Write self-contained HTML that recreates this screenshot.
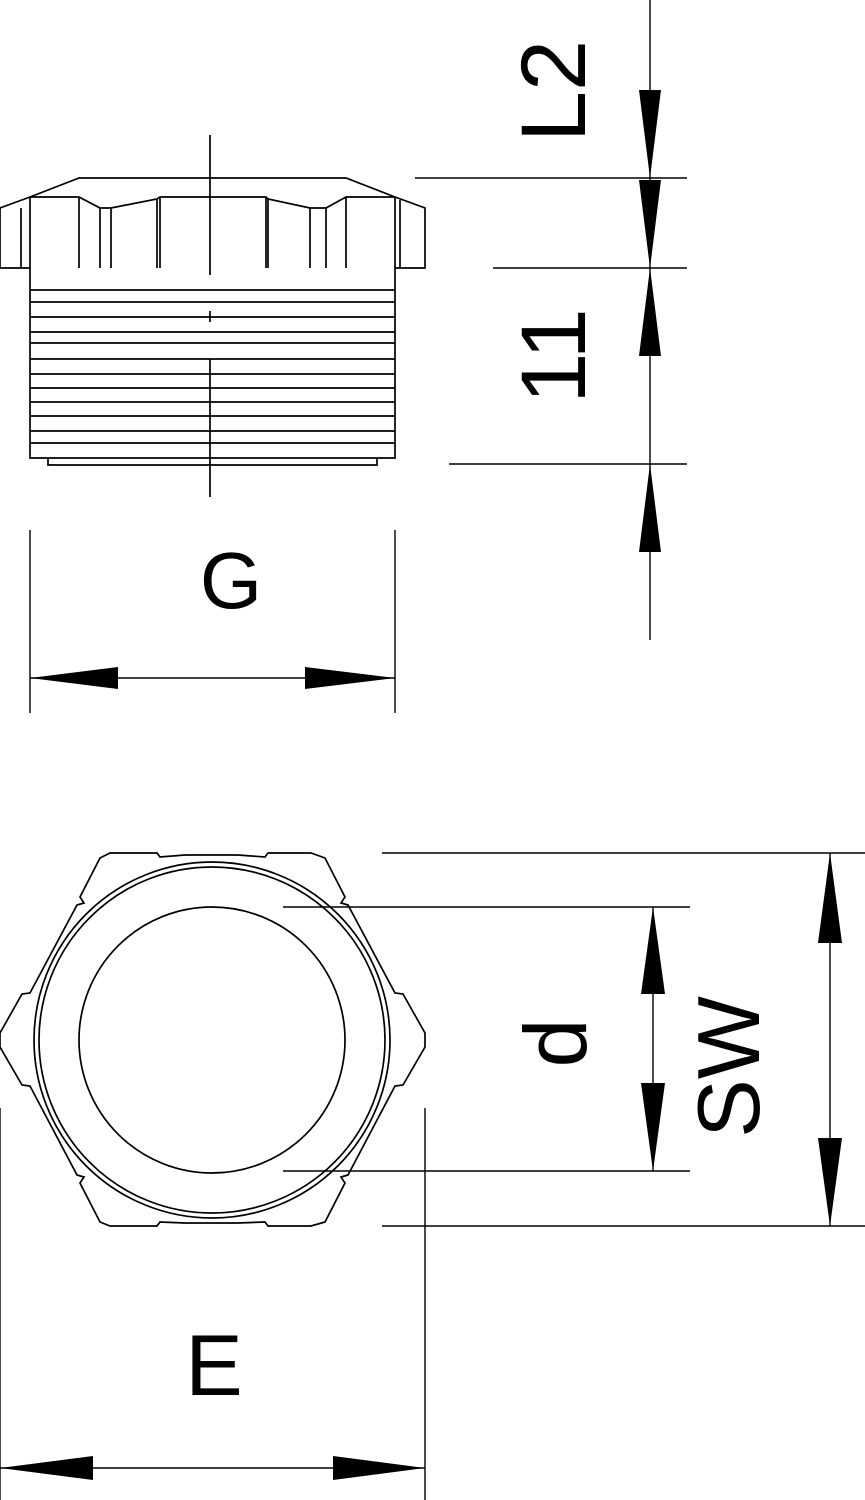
<!DOCTYPE html>
<html><head><meta charset="utf-8"><style>
html,body{margin:0;padding:0;background:#fff;}
svg{display:block;}
text{font-family:"Liberation Sans",sans-serif;fill:#000;}
</style></head><body>
<svg width="865" height="1500" viewBox="0 0 865 1500" xmlns="http://www.w3.org/2000/svg">
<g fill="none" stroke="#000" stroke-width="1.7">
<path d="M30,268 L0,268 L0,208 L30,197 L79,178 L346,178 L395,197 L425,208 L425,268 L395,268"/>
<path d="M30,197 L79,197 L100,208 L111,208 L157,199 L160,197 L266,197 L268,199 L310,208 L326,208 L346,197 L395,197"/>
<path d="M21,208 V268 M30,197 V268 M79,197 V268 M100,208 V268 M111,208 V268 M157,199 V268 M160,197 V268 M266,197 V268 M268,199 V268 M310,208 V268 M326,208 V268 M346,197 V268 M395,197 V268 M400,200 V268"/>
<path d="M30,268 V458 H395 V268"/>
<path d="M48,458 V465 H377 V458"/>
<path d="M30,290H395M30,302H395M30,317H395M30,332H395M30,343H395M30,359H395M30,374H395M30,388H395M30,402H395M30,416H395M30,431H395M30,443H395"/>
<path d="M210,135 V275 M210,311 V322 M210,359 V497"/>
<path stroke-width="1.4" d="M650,0 V640 M415,178 H687 M493,268 H687 M449,464 H687"/>
<path stroke-width="1.4" d="M30,530 V713 M395,530 V713 M30,678 H395"/>
<path d="M110,853 L157,853 L160,857 L185,855 L238,855 L265,857 L268,853 L311,853 L325,858 L345,897 L341,903 L348,905 L395,993 L403,994 L425,1033 L425,1047 L403,1085 L395,1086 L348,1175 L341,1177 L345,1183 L325,1222 L311,1226 L268,1226 L265,1222 L238,1223 L185,1223 L160,1222 L157,1226 L110,1226 L100,1222 L80,1183 L84,1177 L77,1175 L30,1086 L22,1085 L0,1047 L0,1033 L22,994 L30,993 L77,905 L84,903 L80,897 L100,858 Z"/>
<circle cx="212" cy="1040" r="178"/>
<circle cx="212" cy="1040" r="173"/>
<circle cx="212" cy="1040" r="133"/>
<path stroke-width="1.4" d="M382,853 H865 M382,1226 H865 M283,907 H690 M283,1171 H690 M653,907 V1171 M830,853 V1226"/>
<path stroke-width="1.4" d="M0,1108 V1500 M425,1108 V1500 M0,1468 H425"/>
</g>
<g fill="#000">
<polygon points="650,178 639,90 661,90"/>
<polygon points="650,268 639,180 661,180"/>
<polygon points="650,268 639,356 661,356"/>
<polygon points="650,464 639,552 661,552"/>
<polygon points="30,678 118,667 118,689"/>
<polygon points="395,678 305,667 305,689"/>
<polygon points="653,907 641,994 665,994"/>
<polygon points="653,1171 641,1083 665,1083"/>
<polygon points="830,853 818,943 842,943"/>
<polygon points="830,1226 818,1138 842,1138"/>
<polygon points="0,1468 93,1456 93,1480"/>
<polygon points="425,1468 333,1456 333,1480"/>
</g>
<text x="231" y="608" font-size="80" text-anchor="middle">G</text>
<text x="214" y="1395" font-size="86" text-anchor="middle">E</text>
<text transform="translate(585,91) rotate(-90)" font-size="92" text-anchor="middle">L2</text>
<text transform="translate(585,356) rotate(-90)" font-size="92" text-anchor="middle">11</text>
<text transform="translate(586,1043) rotate(-90)" font-size="88" text-anchor="middle">d</text>
<text transform="translate(759,1067) rotate(-90)" font-size="88" text-anchor="middle">SW</text>
</svg>
</body></html>
